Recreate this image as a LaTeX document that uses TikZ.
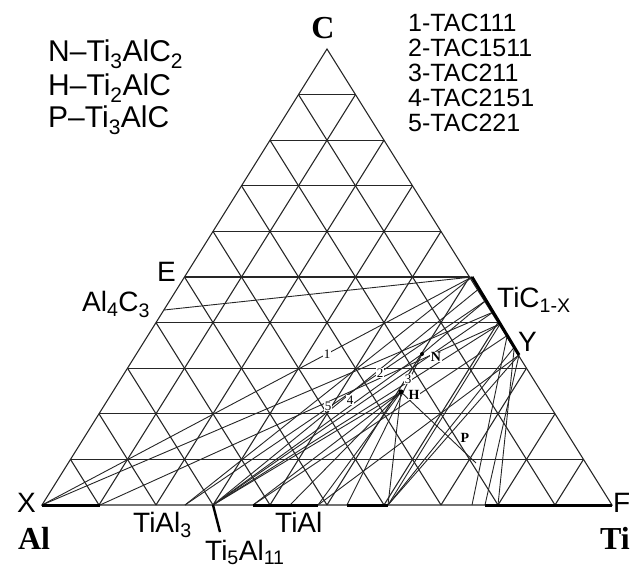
\documentclass[tikz,border=0pt]{standalone}
\usepackage{fontspec}
\setmainfont{Liberation Serif}
\setsansfont{Liberation Sans}
\usetikzlibrary{calc}
\begin{document}
\begin{tikzpicture}[x=1pt, y=-1pt,
  grid/.style={line width=1.1pt, black!85},
  tie/.style={line width=0.9pt, black!85},
  phase/.style={line width=3pt, black},
  corner/.style={font=\fontsize{32}{32}\selectfont\bfseries\rmfamily, inner sep=0pt},
  lab/.style={font=\fontsize{28}{28}\selectfont\sffamily, inner sep=0pt, anchor=base west},
  legend/.style={font=\fontsize{#1}{#1}\selectfont\sffamily, inner sep=0pt, anchor=base west},
  ptlab/.style={font=\fontsize{14}{14}\selectfont\bfseries\rmfamily, fill=white, inner sep=0.6pt},
  num/.style={font=\fontsize{13}{13}\selectfont\rmfamily, fill=white, inner sep=0.6pt}
]
  \useasboundingbox (0,0) rectangle (630,572);
  % corners of the triangle
  \coordinate (Al) at (42,505);
  \coordinate (Ti) at (612,505);
  \coordinate (C)  at (327,49);
  % grid, 10 steps
  \foreach \k in {1,...,9}{
    \pgfmathsetmacro\t{\k/10}
    \pgfmathsetmacro\u{1-\k/10}
    \draw[grid] ($(Al)!\t!(C)$) -- ($(Ti)!\t!(C)$);
    \draw[grid] ($(Al)!\t!(Ti)$) -- ($(Ti)!\u!(C)$);
    \draw[grid] ($(Al)!\t!(Ti)$) -- ($(Al)!\t!(C)$);
  }
  \draw[grid] (Al) -- (Ti) -- (C) -- cycle;

  % phases
  \coordinate (TiC)   at (472,277);
  \coordinate (Y)     at (519,355);
  \coordinate (Al4C3) at (164,310);
  \coordinate (N)     at (422,354);
  \coordinate (H)     at (401,392);
  \coordinate (P)     at (476,463);
  \foreach \s [count=\i] in {0.15,0.3,0.45,0.6,0.75,0.9}
    \coordinate (t\i) at ($(TiC)!\s!(Y)$);
  % points on the Al--Ti side
  \coordinate (b1) at (100,505);
  \coordinate (a3) at (185,505);
  \coordinate (a5) at (213,505);
  \coordinate (b4) at (253,505);
  \coordinate (b45) at (290,505);
  \coordinate (b5) at (318,505);
  \coordinate (b6) at (347,505);
  \coordinate (b7) at (388,505);
  \coordinate (b75) at (472,505);
  \coordinate (b8) at (485,505);
  \coordinate (b9) at (498,505);
  \coordinate (t511) at (220,532);

  % tie lines
  \draw[tie] (Al4C3) -- (TiC);
  \draw[tie] (Al) -- (TiC);
  \draw[tie] (Al) -- (t3);
  \draw[tie] (b1) -- (t4);
  \draw[tie] (a3) -- (TiC);
  \draw[tie] (a3) -- (t2);
  \draw[tie] (a5) -- (t1);
  \draw[tie] (a5) -- (t3);
  \draw[tie] (a5) -- (t4);
  \draw[tie] (a5) -- (N);
  \draw[tie] (a5) -- (H);
  \draw[tie] (b4) -- (H);
  \draw[tie] (b4) -- (t5);
  \draw[tie] (b45) -- (H);
  \draw[tie] (N) -- (t2);
  \draw[tie] (b5) -- (H);
  \draw[tie] (b5) -- (Y);
  \draw[tie] (b6) -- (N);
  \draw[tie] (b7) -- (H);
  \draw[tie] (b7) -- (t4);
  \draw[tie] (b7) -- (t6);
  \draw[tie] (b7) -- (Y);
  \draw[tie] (H) -- (P);
  \draw[tie] (b75) -- (t5);
  \draw[tie] (b8) -- (Y);
  \draw[tie] (b9) -- (t6);

  % homogeneity ranges
  \draw[phase] (Al) -- (b1);
  \draw[phase] (b4) -- (b5);
  \draw[phase] (b6) -- (b7);
  \draw[phase] (b8) -- (Ti);
  \draw[phase] (TiC) -- (Y);
  \draw[phase, line width=2.4pt] (a5) -- (t511);
  \fill (N) circle (2pt);
  \fill (H) circle (2.6pt);

  % point labels
  \node[num]  (n1) at (327,354) {1};
  \node[num]  (n2) at (380,373) {2};
  \node[num]  (n3) at (408,379) {3};
  \node[num]  (n4) at (350,400) {4};
  \node[num]  (n5) at (328,406) {5};
  \node[ptlab] (lN) at (436,357) {N};
  \node[ptlab] (lH) at (414,395) {H};
  \node[ptlab] (lP) at (465,438) {P};

  % vertices and phase names
  \node[corner] (lC)  at (323,28)  {C};
  \node[corner] (lAl) at (34,538)  {Al};
  \node[corner] (lTi) at (615,538) {Ti};
  \node[lab] (lX) at (17,512)  {X};
  \node[lab] (lF) at (613,512) {F};
  \node[lab] (lE) at (157,282) {E};
  \node[lab] (lY) at (518,352) {Y};
  \node[lab] (lAlC)  at (82,312)  {Al\textsubscript{4}C\textsubscript{3}};
  \node[lab] (lTiC)  at (497,308) {TiC\textsubscript{1-X}};
  \node[lab] (lTiAl3) at (133,532) {TiAl\textsubscript{3}};
  \node[lab] (lTiAl)  at (275,532) {TiAl};
  \node[lab] (lTi5)   at (205,560) {Ti\textsubscript{5}Al\textsubscript{11}};

  % legends
  \node[legend=30] (g1) at (48,62)  {N\textendash Ti\textsubscript{3}AlC\textsubscript{2}};
  \node[legend=30] (g2) at (48,96)  {H\textendash Ti\textsubscript{2}AlC};
  \node[legend=30] (g3) at (48,128) {P\textendash Ti\textsubscript{3}AlC};
  \foreach \txt [count=\i] in {1-TAC111,2-TAC1511,3-TAC211,4-TAC2151,5-TAC221}
    \node[legend=25] (s\i) at (408,7+25*\i) {\txt};
\end{tikzpicture}
\end{document}
